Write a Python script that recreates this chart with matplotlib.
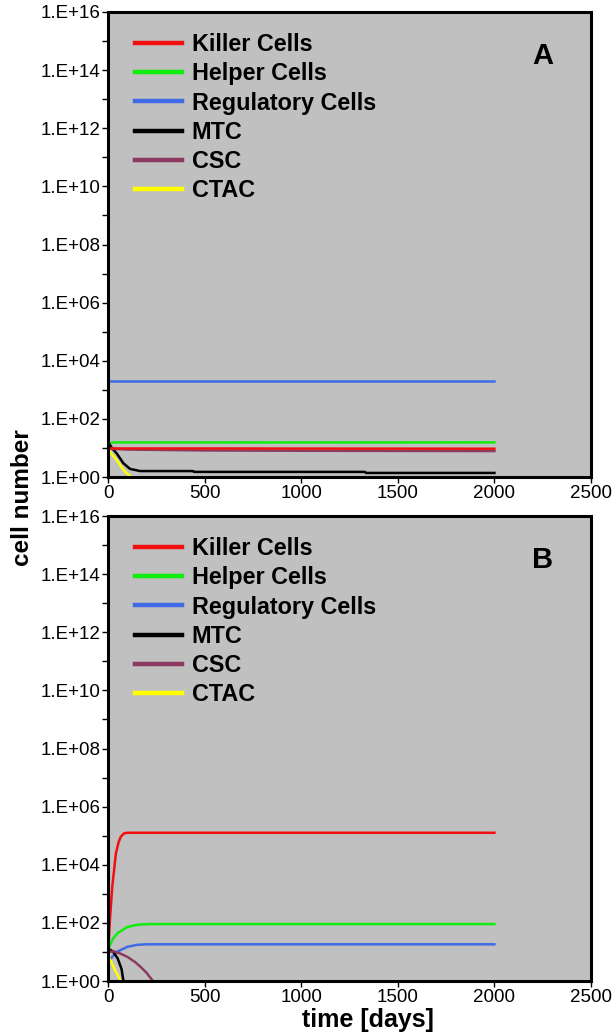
import numpy as np
import matplotlib
matplotlib.use("Agg")
import matplotlib.pyplot as plt
from matplotlib.ticker import FixedLocator, FuncFormatter, NullFormatter

plt.rcParams['font.family'] = ['Liberation Sans', 'DejaVu Sans']

labels = ['Killer Cells', 'Helper Cells', 'Regulatory Cells', 'MTC', 'CSC', 'CTAC']
colors = ['#f01010', '#10ee10', '#3f6be6', '#000000', '#8c3a62', '#ffff00']

# panel A (time, cell number)
a_killer_t = [0, 20, 500, 1000, 2000]
a_killer_v = [9.2, 9.6, 9.6, 9.5, 9.4]
a_helper_t = [0, 10, 25, 500, 2000]
a_helper_v = [12, 14, 15.5, 15.5, 15.5]
a_reg_t = [0, 2000]
a_reg_v = [2000, 2000]
a_mtc_t = [0, 20, 45, 79, 114, 166, 440, 445, 1330, 1335, 2000]
a_mtc_v = [16, 10, 6.5, 3.0, 1.9, 1.6, 1.6, 1.5, 1.5, 1.38, 1.38]
a_csc_t = [0, 100, 500, 1000, 2000]
a_csc_v = [9.5, 8.8, 8.2, 8.0, 7.8]
a_ctac_t = [0, 20, 45, 80, 115, 160]
a_ctac_v = [9, 6, 3.8, 1.75, 1.05, 0.85]

# panel B
b_killer_t = [0, 2, 10, 22, 41, 55, 66, 83, 100, 2000]
b_killer_v = [12, 15, 126, 1750, 24800, 60000, 92000, 120000, 126000, 126000]
b_helper_t = [0, 25, 50, 100, 150, 210, 2000]
b_helper_v = [12, 28, 45, 72, 86, 91, 91]
b_reg_t = [0, 20, 45, 100, 150, 200, 2000]
b_reg_v = [4.2, 6.5, 10, 15, 17.5, 18.3, 18.3]
b_mtc_t = [0, 25, 50, 70, 80, 85]
b_mtc_v = [13, 10.5, 6, 2.6, 1.0, 0.6]
b_csc_t = [0, 30, 60, 100, 140, 170, 200, 230, 240]
b_csc_v = [10, 10.5, 9, 6.8, 4.5, 3, 1.9, 1.05, 0.85]
b_ctac_t = [0, 15, 30, 50, 65, 75]
b_ctac_v = [7.5, 4.8, 2.9, 1.6, 1.0, 0.7]

panels = [
    ('A', [(a_killer_t, a_killer_v), (a_helper_t, a_helper_v), (a_reg_t, a_reg_v),
           (a_mtc_t, a_mtc_v), (a_csc_t, a_csc_v), (a_ctac_t, a_ctac_v)]),
    ('B', [(b_killer_t, b_killer_v), (b_helper_t, b_helper_v), (b_reg_t, b_reg_v),
           (b_mtc_t, b_mtc_v), (b_csc_t, b_csc_v), (b_ctac_t, b_ctac_v)]),
]

fig = plt.figure(figsize=(6.15, 10.36), dpi=100)
left, width = 108 / 615, (591 - 108) / 615
boxes = [(left, 1 - 477 / 1036, width, 465 / 1036),
         (left, 1 - 981 / 1036, width, 465 / 1036)]

for (name, series), box in zip(panels, boxes):
    ax = fig.add_axes(box)
    ax.set_facecolor('#c0c0c0')
    for i, ((t, v), lab, col) in enumerate(zip(series, labels, colors)):
        # killer line on top of the CSC line in panel A
        z = 2.5 if (name == 'A' and i == 0) else 2
        ax.plot(t, v, color=col, lw=1.8, label=lab, zorder=z)
    ax.set_yscale('log')
    ax.set_ylim(1, 1e16)
    ax.set_xlim(0, 2500)
    ax.yaxis.set_major_locator(FixedLocator([10.0 ** k for k in range(0, 17, 2)]))
    ax.yaxis.set_minor_locator(FixedLocator([10.0 ** k for k in range(1, 16, 2)]))
    ax.yaxis.set_major_formatter(FuncFormatter(lambda y, p: '1.E+%02d' % round(np.log10(y))))
    ax.yaxis.set_minor_formatter(NullFormatter())
    ax.set_xticks([0, 500, 1000, 1500, 2000, 2500])
    ax.tick_params(axis='both', which='both', direction='out', labelsize=13.5, pad=1.5,
                   width=1, length=4)
    ax.tick_params(axis='x', pad=2)
    for sp in ax.spines.values():
        sp.set_linewidth(2.2)
    leg = ax.legend(loc='upper left', bbox_to_anchor=(0.056, 0.955), frameon=False,
                    borderaxespad=0, borderpad=0, handlelength=2.0, handletextpad=0.42,
                    labelspacing=0.27, prop={'weight': 'bold', 'size': 16.8})
    for h in leg.get_lines():
        h.set_linewidth(3.2)
    ax.text(0.90, 0.905, name, transform=ax.transAxes, fontsize=21, fontweight='bold',
            ha='center', va='center')

fig.text(0.036, 0.52, 'cell number', rotation=90, ha='center', va='center',
         fontsize=17.5, fontweight='bold')
fig.text(0.598, 0.0155, 'time [days]', ha='center', va='center',
         fontsize=18, fontweight='bold')

fig.savefig('out.png', dpi=100)
